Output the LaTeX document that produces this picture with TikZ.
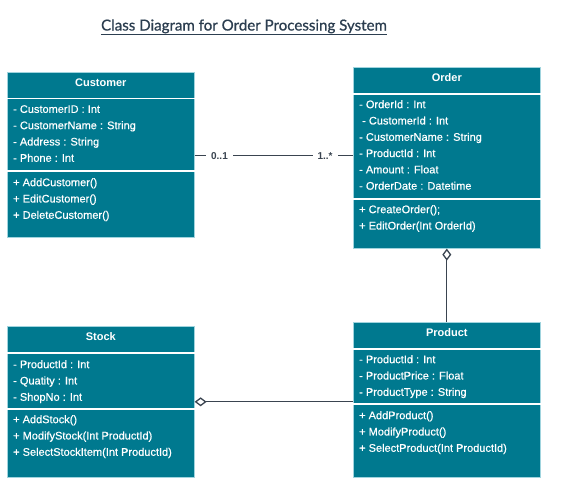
\documentclass[tikz,border=0pt]{standalone}
\usepackage{fontspec}
\setmainfont{Liberation Sans}
\newfontfamily\latofont[FakeBold=0.8]{Lato}
\newfontfamily\memberfont[FakeBold=0.5]{Liberation Sans}
\usetikzlibrary{positioning,arrows.meta,calc}

\definecolor{classteal}{RGB}{0,121,143}
\definecolor{classedge}{RGB}{160,212,222}
\definecolor{linkgray}{RGB}{58,68,80}
\definecolor{titleink}{RGB}{44,62,80}

\begin{document}
\begin{tikzpicture}[x=1pt, y=-1pt,
    classbox/.style={draw=classedge, fill=classteal, line width=0.6pt, anchor=north west,
                     inner sep=0pt, minimum width=187pt},
    classname/.style={text=white, font=\fontsize{11}{13}\selectfont\bfseries, anchor=base, inner sep=0pt},
    members/.style={text=white, font=\memberfont\fontsize{11}{16.3}\selectfont, align=left,
                    anchor=north west, inner sep=0pt},
    divider/.style={white, line width=1.2pt},
    link/.style={draw=linkgray, line width=1.3pt},
    mult/.style={fill=white, text=linkgray, font=\fontsize{10}{12}\selectfont\bfseries,
                 inner xsep=5pt, inner ysep=1pt},
    heading/.style={font=\latofont\fontsize{15.1}{18}\selectfont, text=titleink, anchor=base, inner sep=0pt}
  ]
    \useasboundingbox (0,0) rectangle (570,490);

    \node[heading] (title) at (244,30.5) {Class Diagram for Order Processing System};
    \draw[titleink, line width=1.1pt] ($(title.base west)+(0,4)$) -- ($(title.base east)+(0,4)$);

    % Customer
    \node[classbox, minimum height=165pt] (customer) at (7,72) {};
    \node[classname] (customer-name) at ($(customer.north)+(0,14)$) {Customer};
    \draw[divider] ($(customer.north west)+(0,26.5)$) -- ($(customer.north east)+(0,26.5)$);
    \draw[divider] ($(customer.north west)+(0,99)$) -- ($(customer.north east)+(0,99)$);
    \node[members] (customer-attrs) at ($(customer.north west)+(6,33)$) {
      - CustomerID : Int\\
      - CustomerName : String\\
      - Address : String\\
      - Phone : Int};
    \node[members] (customer-ops) at ($(customer.north west)+(6,106)$) {
      + AddCustomer()\\
      + EditCustomer()\\
      + DeleteCustomer()};

    % Order
    \node[classbox, minimum height=181pt] (order) at (353,67) {};
    \node[classname] (order-name) at ($(order.north)+(0,14)$) {Order};
    \draw[divider] ($(order.north west)+(0,27)$) -- ($(order.north east)+(0,27)$);
    \draw[divider] ($(order.north west)+(0,132)$) -- ($(order.north east)+(0,132)$);
    \node[members] (order-attrs) at ($(order.north west)+(6,33)$) {
      - OrderId : Int\\
      \hspace{3pt}- CustomerId : Int\\
      - CustomerName : String\\
      - ProductId : Int\\
      - Amount : Float\\
      - OrderDate : Datetime};
    \node[members] (order-ops) at ($(order.north west)+(6,138)$) {
      + CreateOrder();\\
      + EditOrder(Int OrderId)};

    % Stock
    \node[classbox, minimum height=151pt] (stock) at (7,326) {};
    \node[classname] (stock-name) at ($(stock.north)+(0,14)$) {Stock};
    \draw[divider] ($(stock.north west)+(0,27)$) -- ($(stock.north east)+(0,27)$);
    \draw[divider] ($(stock.north west)+(0,83)$) -- ($(stock.north east)+(0,83)$);
    \node[members] (stock-attrs) at ($(stock.north west)+(6,34)$) {
      - ProductId : Int\\
      - Quatity : Int\\
      - ShopNo : Int};
    \node[members] (stock-ops) at ($(stock.north west)+(6,89)$) {
      + AddStock()\\
      + ModifyStock(Int ProductId)\\
      + SelectStockItem(Int ProductId)};

    % Product
    \node[classbox, minimum height=155pt] (product) at (353,322) {};
    \node[classname] (product-name) at ($(product.north)+(0,14)$) {Product};
    \draw[divider] ($(product.north west)+(0,27)$) -- ($(product.north east)+(0,27)$);
    \draw[divider] ($(product.north west)+(0,82)$) -- ($(product.north east)+(0,82)$);
    \node[members] (product-attrs) at ($(product.north west)+(6,33)$) {
      - ProductId : Int\\
      - ProductPrice : Float\\
      - ProductType : String};
    \node[members] (product-ops) at ($(product.north west)+(6,89)$) {
      + AddProduct()\\
      + ModifyProduct()\\
      + SelectProduct(Int ProductId)};

    % associations
    \draw[link] ([yshift=-1pt]customer.east) -- ([yshift=-1pt]customer.east -| order.west)
      node[mult, pos=0.157] {0..1} node[mult, pos=0.824] {1..*};
    \draw[link, {Diamond[open, length=12pt, width=9pt]}-] (order.south) -- (product.north);
    \draw[link, {Diamond[open, length=12pt, width=9pt]}-] (stock.east) -- (stock.east -| product.west);
  \end{tikzpicture}
\end{document}
